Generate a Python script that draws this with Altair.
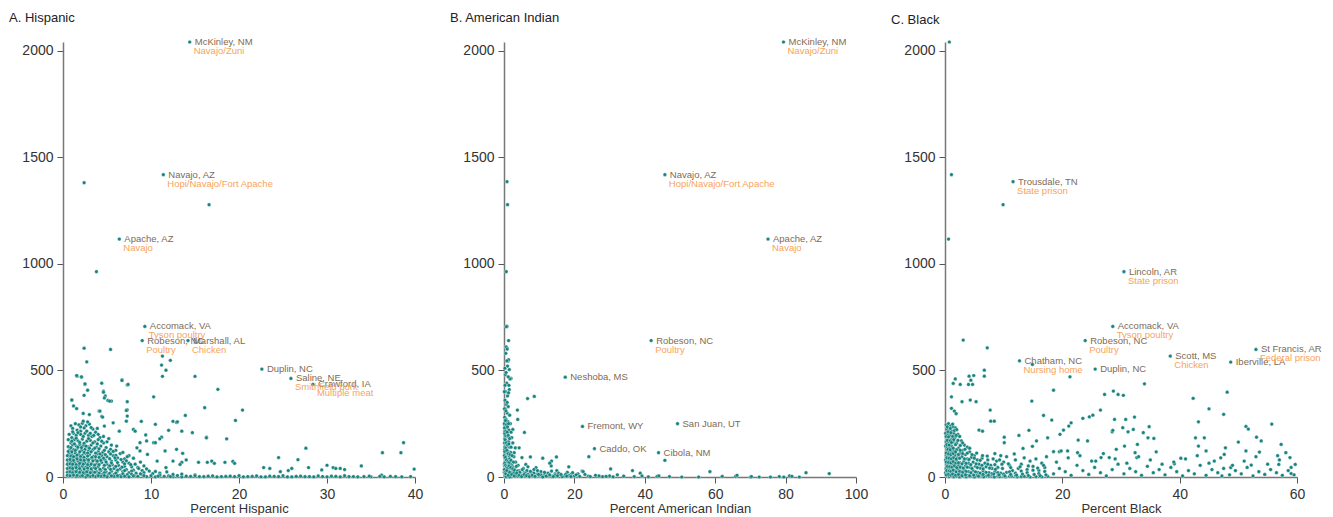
import altair as alt
import pandas as pd

# ---------------- data ----------------
# Panel A: percent Hispanic (x) vs rate (y)
A_pts = [
    (2.4,1380),(16.6,1277),(3.8,963),
    (2.4,604),(5.4,598),(2.7,540),(1.6,473),(2.1,468),(4.4,440),(6.7,456),(7.3,432),(2.5,434),
    (2.8,407),(2.4,383),(4.6,403),(4.8,380),(5.1,359),(5.5,356),(1.0,362),(4.1,309),(4.4,284),
    (7.3,353),(7.3,315),(7.3,286),(7.2,262),(10.3,376),(11.3,567),(11.2,525),(11.7,501),(11.3,472),
    (12.2,547),(15.0,472),(16.1,325),(17.6,411),(20.4,314),(19.6,265),(13.9,289),(12.5,261),(12.9,256),
    (10.5,247),(8.9,261),(14.7,208),(13.5,215),(16.3,187),(18.6,179),(12.0,219),(11.2,187),(9.4,197),
    (8.0,223),(8.75,161),(10.3,161),(12.9,130),(11.6,122),(13.6,111),(13.5,69),(15.4,69),(16.4,69),
    (17.2,64),(18.4,69),(19.3,73),(19.5,64),(24.5,91),(26.7,81),(27.6,135),(27.9,44),(30.0,55),
    (31.5,40),(33.9,52),(36.3,114),(38.4,114),(38.7,161),(39.9,37),(22.8,44),(23.5,40),(24.7,25),
    (25.6,30),(26.0,40),(29.4,33),(36.2,9),(30.7,44),(31.0,40),(32.0,35),(14.0,80),(12.5,75),
    (13.3,59),(11.7,44),(10.7,75),(9.6,106),(8.75,122),(16.9,75),(16.3,184),(11.0,179),(9.5,169),
    (10.5,161),(8.4,137),(13.0,259),(8.2,215),(6.4,215),(5.7,254),(4.7,239),(4.5,281),(4.2,309),
    (7.2,312),(3.0,293),(2.3,298),(1.55,321),(1.2,333),(1.0,361),(2.5,437),(1.55,476),(2.1,470),
    (4.7,371),(5.3,356),(4.6,398),(7.4,434),(6.7,453),
    (1.8,245),(2.2,252),(2.6,240),(3.0,248),(2.4,230),(3.4,225),(1.6,220),(2.0,215),
    (1.2,205),(1.5,195),(2.0,200),(2.5,205),(2.9,195),(3.3,190),(3.7,210),(4.2,185),(1.0,185),
    (1.3,175),(1.7,170),(2.2,178),(2.7,168),(3.1,172),(3.6,165),(4.0,175),(4.6,160),(5.0,165),(0.9,160),
    (1.1,150),(1.5,145),(1.9,152),(2.3,148),(2.8,142),(3.2,150),(3.8,140),(4.3,145),(4.9,138),(5.4,130),(6.0,125),
    (0.8,130),(1.2,128),(1.6,132),(2.1,125),(2.5,130),(2.9,122),(3.4,128),(4.0,120),(4.5,115),(5.2,118),(6.5,110),
    (0.7,110),(1.0,105),(1.4,112),(1.8,108),(2.2,102),(2.6,110),(3.0,105),(3.5,98),(3.9,108),(4.4,100),
    (5.0,95),(5.7,100),(6.2,90),(7.0,85),
    (0.8,90),(1.1,88),(1.5,92),(1.9,85),(2.3,90),(2.7,82),(3.2,88),(3.7,80),(4.2,85),(4.8,78),(5.5,75),
    (6.0,80),(6.8,70),(7.5,65),(8.2,60),
    (0.6,70),(0.9,72),(1.3,68),(1.7,75),(2.1,70),(2.5,65),(2.9,72),(3.3,66),(3.8,62),(4.4,68),(5.0,60),
    (5.6,58),(6.3,55),(7.0,50),(7.8,48),(8.5,45),
    (0.7,50),(1.0,52),(1.4,48),(1.8,55),(2.2,50),(2.6,46),(3.0,52),(3.5,45),(4.0,48),(4.6,42),(5.2,45),
    (5.8,40),(6.5,38),(7.2,35),(8.0,32),(9.0,30),(9.8,28),
    (0.6,30),(0.9,32),(1.2,28),(1.6,34),(2.0,30),(2.4,27),(2.8,32),(3.3,28),(3.8,25),(4.3,30),(4.9,24),
    (5.5,27),(6.1,22),(6.8,25),(7.5,20),(8.3,18),(9.2,20),(10.2,16),(11.0,18),
    (0.6,15),(0.9,12),(1.3,18),(1.7,14),(2.1,10),(2.5,16),(2.9,12),(3.4,15),(3.9,10),(4.5,14),(5.1,9),
    (5.8,12),(6.5,8),(7.3,11),(8.1,7),(9.0,10),(10.0,6),(11.0,8),(12.0,5),(13.0,7),(14.0,4),
    (0.7,3),(1.1,5),(1.5,2),(2.0,4),(2.6,1),(3.1,3),(3.7,2),(4.3,4),(5.0,1),(5.8,3),(6.6,2),(7.5,1),
    (8.5,3),(9.5,2),(10.5,1),(11.5,3),(12.5,2),(13.5,1),(14.5,3),(15.5,2),(16.5,4),(17.5,1),(18.5,3),
    (19.5,2),(20.5,1),(21.5,3),(22.5,1),(23.5,4),(24.5,2),(25.5,1),(26.5,3),(27.5,2),(28.5,1),(29.5,2),
    (30.5,4),(31.5,1),(32.5,2),(33.5,1),(34.2,2),(35.0,1),(36.0,3),(37.8,2),(38.5,1),
    (0.9,240),(1.4,250),(2.8,258),(3.2,232),(3.9,228),(1.1,228),(2.0,235),(2.3,262),
    (0.7,200),(1.1,212),(1.7,208),(2.3,190),(2.7,215),(3.1,205),(3.5,195),(4.0,200),(4.6,190),(5.2,180),
    (0.6,175),(1.0,168),(1.5,182),(1.9,162),(2.4,158),(2.9,180),(3.4,160),(3.9,155),(4.4,168),(5.5,150),(6.1,145),
    (0.6,142),(0.9,138),(1.3,155),(1.7,140),(2.1,138),(2.6,145),(3.0,135),(3.6,135),(4.1,132),(4.7,125),
    (5.7,120),(6.8,115),(7.5,100),
    (0.6,120),(1.0,118),(1.4,125),(1.9,118),(2.4,115),(2.8,112),(3.2,118),(3.7,112),(4.2,108),(4.8,105),
    (5.4,108),(6.0,102),(7.3,95),(8.0,88),
    (0.5,100),(0.9,98),(1.2,95),(1.6,102),(2.0,96),(2.4,92),(2.8,98),(3.3,92),(3.7,95),(4.1,92),(4.6,88),
    (5.3,86),(5.9,90),(6.6,82),(7.2,76),(8.8,70),
    (0.5,80),(0.8,82),(1.2,78),(1.6,85),(2.0,80),(2.4,78),(2.9,80),(3.4,76),(3.9,74),(4.3,78),(4.9,70),
    (5.5,66),(6.2,68),(7.0,62),(7.7,58),(9.2,52),
    (0.5,60),(0.8,62),(1.1,60),(1.5,58),(1.9,64),(2.3,60),(2.8,58),(3.2,60),(3.6,56),(4.1,58),(4.7,55),
    (5.3,52),(6.0,50),(6.7,46),(8.6,40),(9.5,38),
    (0.5,40),(0.8,42),(1.1,40),(1.5,44),(1.9,40),(2.4,38),(2.8,42),(3.2,38),(3.7,40),(4.2,36),(4.8,35),
    (5.4,36),(6.2,32),(7.0,30),(7.8,28),(10.5,26),(11.8,24),
    (0.5,22),(0.8,24),(1.1,20),(1.5,25),(1.9,22),(2.3,20),(2.7,24),(3.1,20),(3.6,22),(4.1,18),(4.7,20),
    (5.3,17),(6.0,18),(6.8,15),(7.8,14),(8.8,15),(12.5,12),(13.5,14),(15.0,10),
    (0.5,8),(0.8,6),(1.2,9),(1.6,7),(2.2,6),(2.8,8),(3.4,7),(4.0,6),(4.7,7),(5.5,5),(6.2,6),(7.0,4),
    (8.0,5),(9.2,6),(10.8,4),(12.2,2),(15.0,6),(16.0,2),(17.0,5),(18.0,2),(19.0,4),(20.0,6),(21.0,2),
    (22.0,5),(23.0,1),(24.0,3),(25.0,6),(26.0,1),(27.0,4),(28.0,2),(29.0,5),(30.0,1),(31.0,3),(32.0,6),
    (33.0,2),(34.8,4),(36.5,1),(37.2,3),(39.5,2),
]
A_labels = [
    (14.4,2040,"McKinley, NM","Navajo/Zuni"),
    (11.4,1418,"Navajo, AZ","Hopi/Navajo/Fort Apache"),
    (6.4,1116,"Apache, AZ","Navajo"),
    (9.3,706,"Accomack, VA","Tyson poultry"),
    (9.0,640,"Robeson, NC","Poultry"),
    (14.2,640,"Marshall, AL","Chicken"),
    (22.6,506,"Duplin, NC",""),
    (25.9,462,"Saline, NE","Smithfield pork"),
    (28.4,434,"Crawford, IA","Multiple meat"),
]

# Panel B: percent American Indian (x) vs rate (y)
B_pts = [
    (0.85,1385),(1.0,1277),(0.65,963),(6.7,368),(8.6,378),(3.8,314),(3.9,270),(5.8,209),(24.1,95),(45.7,78),
    (0.85,707),(1.3,640),(0.85,606),(1.1,543),(1.5,504),(2.0,462),(2.5,223),(2.0,184),(3.2,137),(4.3,137),
    (7.5,94),(11.0,88),(14.9,94),(13.5,75),(13.4,52),(18.4,48),(22.2,28),(9.1,44),(6.2,59),(5.1,91),(2.9,114),
    (0.7,705),(0.6,610),(0.9,600),(1.3,550),(0.8,545),(1.0,520),(0.4,480),(1.7,460),(1.2,470),(0.8,440),
    (1.5,410),(0.5,400),(1.0,380),(0.3,360),(0.7,340),(1.2,330),(0.4,320),(0.9,300),(1.6,290),(0.2,280),
    (0.6,270),(1.1,260),(1.8,250),(0.3,240),(0.8,230),(1.4,220),(2.0,210),(0.5,200),(1.0,190),(2.2,185),
    (0.2,180),(0.7,170),(1.3,165),(2.5,160),(0.4,150),(0.9,145),(1.6,140),(0.2,130),(0.6,125),(1.1,120),
    (1.9,115),(0.3,110),(0.8,105),(1.4,100),(2.8,95),(0.2,90),(0.5,85),(1.0,80),(1.7,75),(0.3,70),(0.7,65),
    (1.2,60),(2.3,55),(0.2,50),(0.5,45),(0.9,40),(1.5,35),(2.6,30),(0.3,28),(0.6,25),(1.1,20),(1.8,15),
    (3.2,12),(0.2,10),(0.5,8),(0.9,5),(1.4,3),(2.1,2),(0.3,1),(0.8,0),(1.6,0),(0.4,18),(0.15,60),(0.15,160),
    (0.15,230),(0.12,320),(0.1,400),(0.25,510),(0.5,580),(0.3,430),(0.6,490),(1.4,430),(0.9,350),(1.3,395),
    (0.2,215),(0.35,195),(0.45,255),(0.55,310),(0.25,140),(0.45,95),(0.65,115),(0.35,38),(0.75,52),
    (0.1,22),(0.3,5),(0.6,2),(1.0,12),(1.2,30),(1.3,48),(1.6,85),(1.8,62),(2.1,40),(2.4,20),(2.7,8),
    (2.5,45),(3.0,38),(3.5,25),(4.5,15),(5.0,8),(6.0,3),(7.0,12),(3.8,5),(2.8,20),(4.2,30),(5.8,22),
    (6.8,48),(7.5,5),(8.2,10),(9.0,2),(10.0,6),(11.0,3),(12.0,12),(13.5,2),(14.5,15),(3.3,70),(4.0,55),
    (5.5,40),(6.5,30),(7.8,20),(8.5,35),(9.5,15),(10.5,25),(11.5,8),(12.5,18),(13.0,65),(14.0,5),(15.0,30),
    (16.0,10),(17.0,3),(18.0,22),(19.0,12),(20.0,5),(21.0,15),(22.5,25),(24.0,4),(26.0,8),(28.0,2),
    (30.3,38),(30.0,5),(32.2,10),(36.5,30),(38.7,18),(39.2,5),(43.5,3),(44.0,5),(55.3,0),(58.5,25),
    (65.8,3),(66.2,8),(70.0,0),(70.3,2),(72.5,0),(75.7,0),(78.2,2),(79.5,0),(81.1,5),(81.8,3),(83.9,0),
    (85.8,20),(92.4,16),
    (0.1,250),(0.4,265),(0.7,245),(1.0,235),(1.3,250),(0.2,205),(0.5,215),(0.9,210),(1.2,195),(1.6,180),
    (0.3,175),(0.6,160),(1.0,150),(1.4,155),(2.0,140),(0.2,120),(0.5,135),(0.8,125),(1.2,110),(1.7,105),
    (2.3,100),(0.1,100),(0.4,92),(0.7,80),(1.1,72),(1.5,68),(2.0,78),(2.7,70),(3.5,50),(0.2,65),(0.4,55),
    (0.7,48),(1.0,42),(1.4,52),(1.9,45),(2.5,38),(3.0,32),(3.8,28),(4.5,22),(5.2,35),(6.0,18),(6.8,12),
    (7.5,26),(8.5,18),(9.5,30),(10.5,10),(11.5,22),(12.5,5),(13.5,28),(14.5,8),(15.5,18),(16.5,2),
    (17.5,12),(18.5,6),(19.5,20),(0.1,35),(0.3,22),(0.5,15),(0.8,30),(1.2,8),(1.6,22),(2.2,12),(2.9,5),
    (3.6,18),(4.3,8),(5.0,2),(5.7,12),(6.4,6),(7.2,2),(8.0,8),(8.8,3),(9.8,12),(11.0,0),(12.0,4),(13.0,10),
    (14.0,2),(15.2,6),(16.2,12),(17.8,4),(19.0,2),(20.5,10),(21.5,3),(23.0,12),(24.5,2),(27.0,5),(29.0,3),
    (31.0,1),(34.0,4),(37.0,2),(41.0,1),(47.0,2),(50.5,0),(62.0,3),
]
B_labels = [
    (79.4,2040,"McKinley, NM","Navajo/Zuni"),
    (45.7,1418,"Navajo, AZ","Hopi/Navajo/Fort Apache"),
    (75.0,1116,"Apache, AZ","Navajo"),
    (41.8,640,"Robeson, NC","Poultry"),
    (17.4,468,"Neshoba, MS",""),
    (22.3,237,"Fremont, WY",""),
    (49.3,250,"San Juan, UT",""),
    (25.7,133,"Caddo, OK",""),
    (43.9,114,"Cibola, NM",""),
]

# Panel C: percent Black (x) vs rate (y)
C_pts = [
    (0.74,2040),(1.1,1418),(9.9,1277),(0.6,1116),
    (3.1,642),(7.2,606),(6.7,501),(6.7,473),(4.1,473),(4.9,476),(4.4,454),(4.0,434),(4.7,434),(1.4,439),
    (1.75,460),(2.6,434),(1.1,376),(2.9,353),(4.3,361),(5.3,353),(1.1,322),(1.6,309),(1.9,297),(7.8,262),
    (8.4,262),(7.7,314),(5.8,220),(6.4,215),(10.1,187),(10.1,161),(12.6,195),(14.3,219),(16.8,289),
    (18.2,267),(18.5,407),(14.8,356),(13.3,134),(14.9,144),(15.6,169),(17.5,184),(18.5,119),(19.5,119),
    (19.6,200),(20.2,220),(21.1,239),(21.5,254),(22.7,173),(23.5,275),(24.6,282),(25.2,290),(26.5,314),
    (27.2,387),(28.7,403),(28.5,212),(21.3,470),(14.9,528),(34.0,437),(29.5,387),(30.4,383),(32.3,281),
    (28.9,270),(30.8,270),(28.6,219),(30.3,231),(31.2,212),(32.1,223),(33.8,208),(34.8,236),(34.6,184),
    (35.6,181),(32.8,153),(36.0,118),(40.2,88),(43.2,145),(42.7,184),(44.2,184),(44.5,122),(47.6,106),
    (47.8,137),(51.3,122),(53.6,117),(53.9,169),(57.3,153),(58.1,114),(58.8,91),(59.7,59),(56.7,100),
    (56.9,59),(59.0,16),(52.2,56),(48.7,44),(47.2,5),(45.9,75),(39.1,62),(32.7,91),(32.4,114),(30.6,145),
    (29.2,130),(28.0,91),(26.6,91),(25.7,75),(24.3,169),(22.6,114),(20.9,122),(19.8,122),
    (48.1,398),(47.5,294),(42.3,369),(45.0,320),(43.2,259),(55.7,248),(51.3,237),(51.7,225),(53.1,187),
    (50.0,164),
    (0.2,245),(0.6,250),(1.0,240),(1.4,235),(0.3,225),(0.8,220),(1.2,215),(1.8,230),(0.1,205),(0.5,200),
    (0.9,195),(1.5,205),(2.2,200),(0.3,185),(0.7,180),(1.1,175),(1.7,185),(2.5,190),(0.2,165),(0.6,160),
    (1.0,155),(1.4,165),(2.0,160),(2.8,170),(3.3,150),(0.1,145),(0.4,140),(0.8,138),(1.2,142),(1.6,130),
    (2.3,135),(3.0,125),(3.8,140),(0.3,120),(0.7,118),(1.1,115),(1.5,122),(1.9,110),(2.6,112),(3.5,105),
    (4.2,118),(5.0,100),(0.2,100),(0.5,98),(0.9,95),(1.3,92),(1.7,100),(2.1,90),(2.9,95),(3.8,85),(4.5,92),
    (5.5,80),(6.3,88),(0.1,80),(0.4,78),(0.8,75),(1.2,82),(1.6,70),(2.0,76),(2.5,68),(3.2,72),(4.0,65),
    (4.8,70),(5.8,60),(6.8,65),(7.8,55),(0.3,60),(0.6,58),(1.0,55),(1.4,62),(1.8,50),(2.3,56),(2.8,48),
    (3.5,52),(4.3,45),(5.2,50),(6.0,42),(7.0,48),(8.0,40),(9.0,45),(0.2,40),(0.5,38),(0.9,35),(1.3,42),
    (1.7,30),(2.2,36),(2.7,28),(3.3,32),(4.0,25),(4.8,30),(5.6,22),(6.5,28),(7.5,20),(8.5,25),(9.5,18),
    (10.5,22),(0.1,20),(0.4,18),(0.8,15),(1.2,22),(1.6,12),(2.1,16),(2.6,10),(3.2,14),(3.9,8),(4.6,12),
    (5.4,6),(6.2,10),(7.1,5),(8.0,9),(9.0,4),(10.0,8),(11.0,3),(12.0,7),(13.0,2),(0.3,5),(0.7,2),(1.1,6),
    (1.5,1),(2.0,3),(2.5,0),(3.0,4),(3.6,1),(4.3,3),(5.0,0),(5.8,2),(6.6,1),(7.5,3),(8.4,0),(9.3,2),
    (10.3,1),(11.3,4),(12.3,1),(13.5,3),(14.5,0),(15.5,2),(16.5,1),(17.5,3),
    (10.0,70),(11.0,55),(12.0,80),(12.5,40),(13.0,60),(13.5,90),(14.0,35),(14.5,75),(15.0,50),(15.5,85),
    (16.0,30),(16.5,65),(17.0,45),(17.3,95),(11.5,30),(10.5,95),(9.5,100),(8.8,75),(8.5,110),(11.8,108),
    (18.5,15),(19.5,40),(20.5,25),(21.5,8),(22.5,55),(23.5,30),(24.5,12),(25.5,45),(26.5,20),(27.5,5),
    (28.5,35),(29.5,60),(30.5,15),(31.5,40),(32.5,25),(33.5,8),(34.5,50),(35.5,20),(36.5,35),(37.5,10),
    (38.5,45),(39.5,25),(40.5,5),(41.5,30),(42.5,15),(43.5,55),(44.5,8),(45.5,35),(46.5,20),(47.5,40),
    (48.5,10),(49.5,30),(50.5,15),(51.5,45),(52.5,5),(53.5,25),(54.5,12),(55.5,35),(56.5,20),(57.5,8),
    (58.5,30),(59.5,10),(19.0,70),(21.0,90),(23.0,100),(25.0,75),(27.0,110),(29.0,85),(31.0,65),(33.0,95),
    (35.0,80),(37.0,60),(39.0,70),(41.0,85),(43.0,100),(45.0,65),(47.0,90),(49.0,55),(51.0,75),(53.0,95),
    (55.0,60),(57.0,80),(59.0,45),
    (0.4,235),(0.9,228),(1.3,248),(0.5,212),(1.0,208),(1.6,218),(2.0,222),(0.2,190),(0.6,188),(1.3,190),
    (1.9,195),(0.4,172),(0.9,170),(1.5,175),(2.2,172),(0.3,152),(0.7,150),(1.1,162),(1.8,152),(2.6,148),
    (3.0,160),(0.5,130),(0.9,128),(1.4,135),(2.0,128),(2.6,125),(3.4,130),(4.2,135),(0.2,112),(0.6,108),
    (1.0,105),(1.4,110),(1.8,118),(2.3,105),(3.0,110),(3.8,112),(4.6,105),(5.4,112),(6.4,100),(7.2,98),
    (0.3,90),(0.7,88),(1.1,85),(1.5,90),(1.9,84),(2.5,88),(3.3,85),(4.1,82),(5.0,88),(6.0,78),(7.3,80),
    (8.2,85),(9.3,80),(0.2,70),(0.6,68),(1.0,66),(1.4,72),(1.8,64),(2.3,66),(2.9,62),(3.6,64),(4.4,58),
    (5.3,62),(6.3,55),(7.3,60),(8.5,58),(9.7,60),(10.8,62),(0.4,50),(0.8,48),(1.2,46),(1.6,52),(2.0,44),
    (2.6,46),(3.1,42),(3.8,46),(4.6,40),(5.5,44),(6.5,38),(7.6,42),(8.6,36),(9.8,40),(11.2,44),(12.8,48),
    (14.2,52),(15.8,42),(16.8,55),(0.3,30),(0.7,28),(1.0,26),(1.4,32),(1.9,24),(2.5,26),(3.0,22),(3.6,26),
    (4.4,20),(5.2,24),(6.0,18),(7.0,22),(8.0,16),(9.0,20),(10.0,14),(11.0,24),(12.0,18),(13.0,28),(14.0,20),
    (15.0,32),(16.0,16),(17.0,26),(0.2,10),(0.6,12),(1.0,9),(1.3,14),(1.8,8),(2.3,12),(2.9,6),(3.5,10),
    (4.2,5),(4.9,9),(5.7,4),(6.5,12),(7.4,8),(8.3,14),(9.2,10),(10.2,5),(11.2,12),(12.2,9),(13.2,14),
    (14.2,7),(15.2,12),(16.2,6),(17.2,10),
]
C_labels = [
    (11.6,1385,"Trousdale, TN","State prison"),
    (30.5,963,"Lincoln, AR","State prison"),
    (28.6,706,"Accomack, VA","Tyson poultry"),
    (23.9,640,"Robeson, NC","Poultry"),
    (12.7,545,"Chatham, NC","Nursing home"),
    (25.6,506,"Duplin, NC",""),
    (38.4,567,"Scott, MS","Chicken"),
    (53.0,598,"St Francis, AR","Federal prison"),
    (48.7,539,"Iberville, LA",""),
]

Y_TICKS = [0, 500, 1000, 1500, 2000]

# ---------------- styling ----------------
TEAL = "#15837f"
NAME_C = "#806a55"
SUB_C = "#f7a35c"
FONT = "Liberation Sans"


def panel(pts, labels, xmax, xticks, xtitle, title):
    df = pd.DataFrame(pts, columns=["x", "y"])
    lab = pd.DataFrame(labels, columns=["x", "y", "name", "sub"])
    xs = alt.Scale(domain=[0, xmax], nice=False)
    ys = alt.Scale(domain=[0, 2040], nice=False)
    xenc = alt.X("x:Q", scale=xs, axis=alt.Axis(values=xticks, title=xtitle, labelFlush=False))
    yenc = alt.Y("y:Q", scale=ys, axis=alt.Axis(values=Y_TICKS, title=None, format="d"))
    dots = alt.Chart(df).mark_circle(
        size=14, color=TEAL, opacity=1, stroke="white", strokeWidth=0.4
    ).encode(x=xenc, y=yenc)
    ldots = alt.Chart(lab).mark_circle(
        size=14, color=TEAL, opacity=1, stroke="white", strokeWidth=0.4
    ).encode(x="x:Q", y="y:Q")
    names = alt.Chart(lab).mark_text(
        align="left", baseline="middle", dx=5, fontSize=9.5, font=FONT, color=NAME_C
    ).encode(x="x:Q", y="y:Q", text="name:N")
    subs = alt.Chart(lab).mark_text(
        align="left", baseline="middle", dx=4, dy=9, fontSize=9.5, font=FONT, color=SUB_C
    ).encode(x="x:Q", y="y:Q", text="sub:N")
    return alt.layer(dots, ldots, names, subs).properties(
        width=352,
        height=435,
        title=alt.TitleParams(
            title, anchor="start", frame="group", dx=-54, fontSize=13,
            fontWeight="normal", font=FONT, color="#222", offset=12,
        ),
    )


pA = panel(A_pts, A_labels, 40, [0, 10, 20, 30, 40], "Percent Hispanic", "A. Hispanic")
pB = panel(B_pts, B_labels, 100, [0, 20, 40, 60, 80, 100], "Percent American Indian", "B. American Indian")
pC = panel(C_pts, C_labels, 60, [0, 20, 40, 60], "Percent Black", "C. Black")

chart = (
    alt.hconcat(pA, pB, pC, spacing=89, bounds="flush")
    .properties(padding={"left": 1, "top": 4, "right": 0, "bottom": 0})
    .configure_view(stroke=None)
    .configure_axis(
        grid=False,
        labelFont=FONT,
        labelFontSize=14,
        labelColor="#333",
        titleFont=FONT,
        titleFontSize=13,
        titleFontWeight="normal",
        titleColor="#333",
        titlePadding=1,
        domainColor="#777",
        domainWidth=1.5,
        tickColor="#555",
        tickSize=6,
        labelPadding=4,
    )
)

chart.save("out.html", embed_options={"renderer": "svg", "actions": False})
